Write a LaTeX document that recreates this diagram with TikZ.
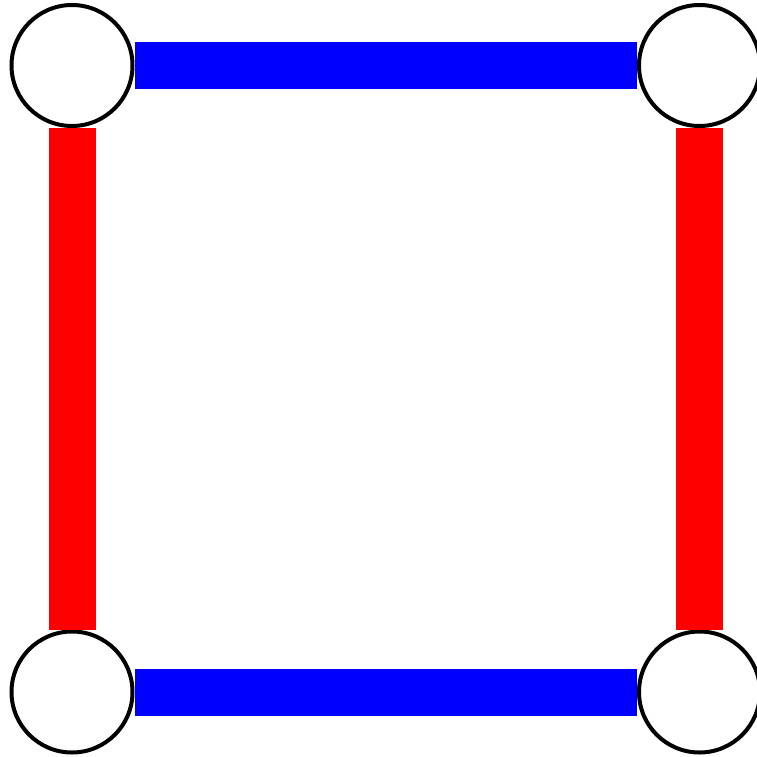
\documentclass[tikz,border=0pt]{standalone}
\begin{document}
\begin{tikzpicture}[x=1pt,y=-1pt,
  vert/.style={circle,draw=black,line width=4pt,minimum size=121pt,inner sep=0pt,fill=white},
  bluebar/.style={draw=blue,line width=47pt},
  redbar/.style={draw=red,line width=47pt}]
\useasboundingbox (0,0) rectangle (757,757);
\node[vert] (tl) at (72,65.5) {};
\node[vert] (tr) at (699.5,65.5) {};
\node[vert] (bl) at (72,692) {};
\node[vert] (br) at (699.5,692) {};
\draw[bluebar] (tl) -- (tr);
\draw[bluebar] (bl) -- (br);
\draw[redbar] (tl) -- (bl);
\draw[redbar] (tr) -- (br);
\end{tikzpicture}
\end{document}
